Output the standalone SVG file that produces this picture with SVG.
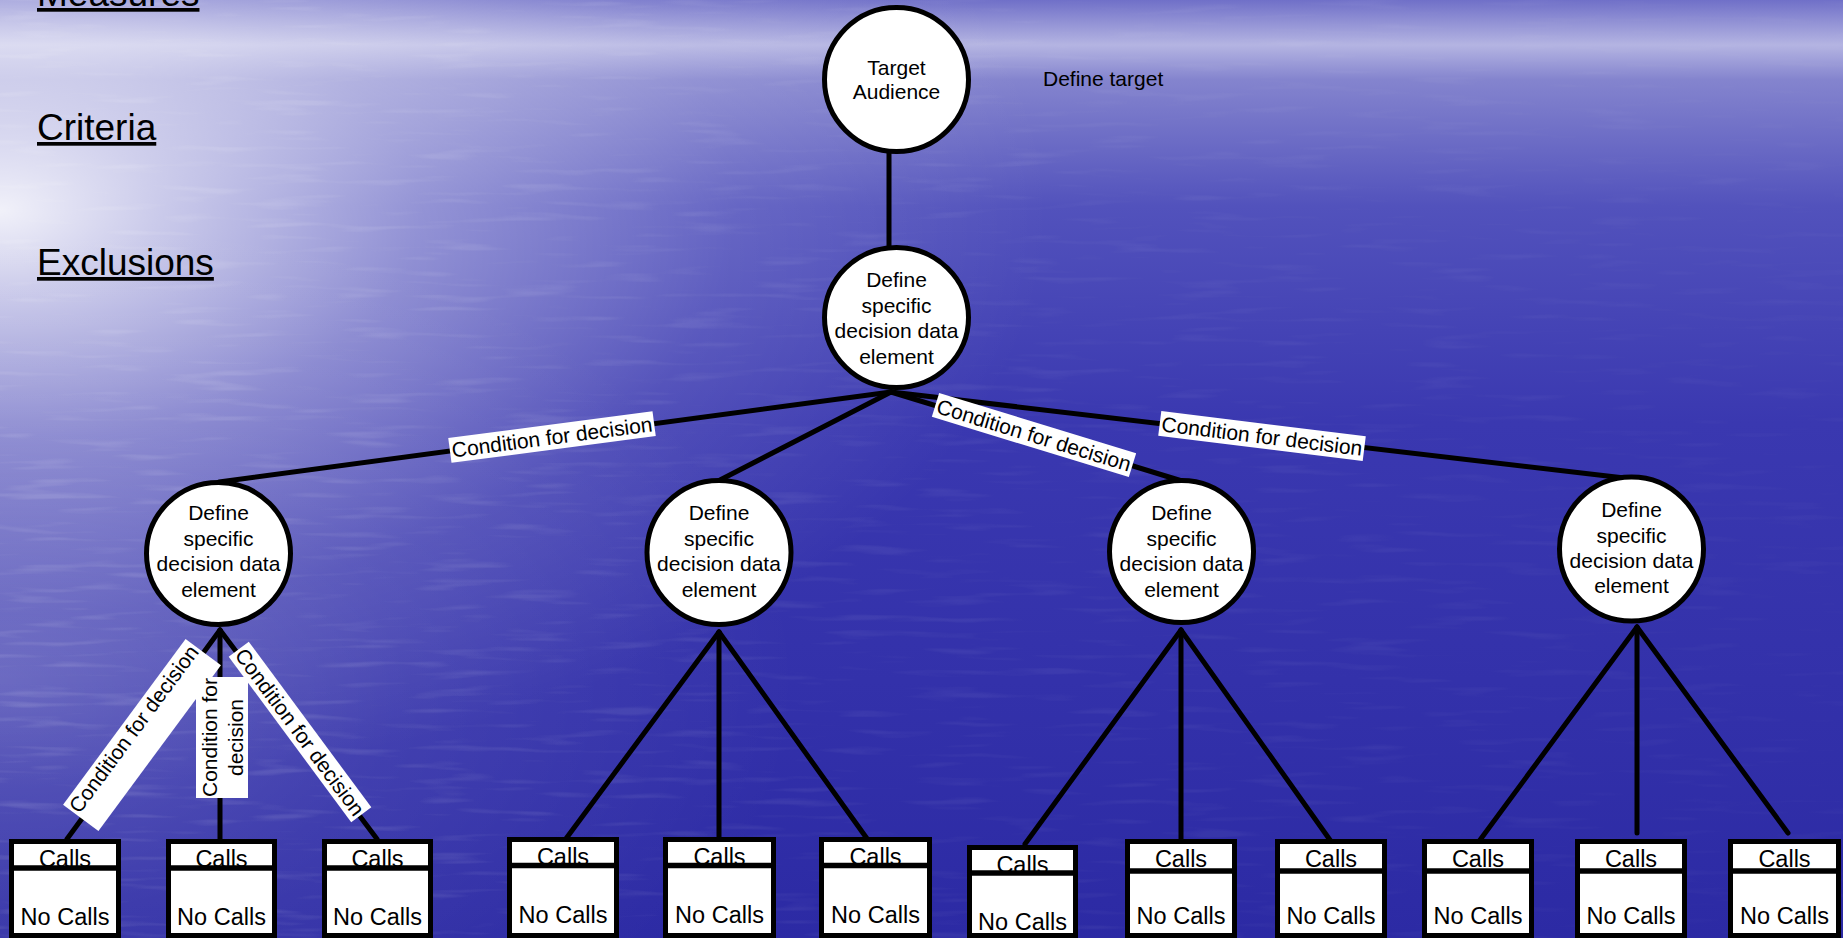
<svg xmlns="http://www.w3.org/2000/svg" width="1843" height="938" viewBox="0 0 1843 938">
<style>
.ln{stroke:#000;stroke-width:5;stroke-linecap:round;fill:none}
.node{fill:#fff;stroke:#000;stroke-width:5}
.box{fill:#fff;stroke:#000;stroke-width:5}
.div{stroke:#000;stroke-width:5.5}
.t{font-family:"Liberation Sans",Arial,sans-serif;font-size:21px;fill:#000;text-anchor:middle}
.bt{font-family:"Liberation Sans",Arial,sans-serif;font-size:23.5px;fill:#000;text-anchor:middle}
.side{font-family:"Liberation Sans",Arial,sans-serif;font-size:37px;fill:#000;text-decoration:underline}
.lbl{fill:#fff}
</style>
<defs>
<linearGradient id="bgv" x1="0" y1="0" x2="0" y2="938" gradientUnits="userSpaceOnUse">
<stop offset="0" stop-color="#7070c8"/>
<stop offset="0.048" stop-color="#b4b4e2"/>
<stop offset="0.085" stop-color="#8484ce"/>
<stop offset="0.22" stop-color="#5252bc"/>
<stop offset="0.45" stop-color="#3a38b0"/>
<stop offset="1" stop-color="#2c2aa4"/>
</linearGradient>
<radialGradient id="glow" cx="0" cy="210" r="1050" gradientUnits="userSpaceOnUse" gradientTransform="translate(0,210) scale(1,0.55) translate(0,-210)">
<stop offset="0" stop-color="#ffffff" stop-opacity="0.92"/>
<stop offset="0.15" stop-color="#ffffff" stop-opacity="0.7"/>
<stop offset="0.4" stop-color="#ffffff" stop-opacity="0.38"/>
<stop offset="0.7" stop-color="#ffffff" stop-opacity="0.12"/>
<stop offset="1" stop-color="#ffffff" stop-opacity="0"/>
</radialGradient>
<radialGradient id="lowglow" cx="0" cy="680" r="800" gradientUnits="userSpaceOnUse" gradientTransform="translate(0,680) scale(1,0.6) translate(0,-680)">
<stop offset="0" stop-color="#ffffff" stop-opacity="0.22"/>
<stop offset="0.5" stop-color="#ffffff" stop-opacity="0.08"/>
<stop offset="1" stop-color="#ffffff" stop-opacity="0"/>
</radialGradient>
<linearGradient id="fadeR" x1="0" y1="0" x2="1843" y2="0" gradientUnits="userSpaceOnUse">
<stop offset="0" stop-color="#fff" stop-opacity="1"/>
<stop offset="0.45" stop-color="#fff" stop-opacity="0.45"/>
<stop offset="1" stop-color="#fff" stop-opacity="0.2"/>
</linearGradient>
<mask id="streakMask" maskUnits="userSpaceOnUse" x="0" y="0" width="1843" height="938">
<rect x="0" y="0" width="1843" height="938" fill="url(#fadeR)"/>
</mask>
<filter id="streaks" x="0" y="0" width="1843" height="938" filterUnits="userSpaceOnUse">
<feTurbulence type="fractalNoise" baseFrequency="0.012 0.13" numOctaves="2" seed="7"/>
<feColorMatrix type="matrix" values="0 0 0 0 1  0 0 0 0 1  0 0 0 0 1  4 0 0 0 -2.2"/>
</filter>
</defs>
<g id="background">
<rect x="0" y="0" width="1843" height="938" fill="url(#bgv)"/>
<rect x="0" y="0" width="1843" height="938" fill="url(#glow)"/>
<rect x="0" y="0" width="1843" height="938" fill="url(#lowglow)"/>
<g mask="url(#streakMask)"><rect x="0" y="0" width="1843" height="938" filter="url(#streaks)" opacity="0.12"/></g>
</g>
<g id="side-labels">
<text class="side" x="37" y="6">Measures</text>
<text class="side" x="37" y="140">Criteria</text>
<text class="side" x="37" y="275">Exclusions</text>
<text class="t" x="1043" y="86" style="text-anchor:start">Define target</text>
</g>
<g id="connectors">
<line class="ln" x1="889" y1="150" x2="889" y2="250"/>
<line class="ln" x1="891" y1="392" x2="219" y2="482"/>
<line class="ln" x1="891" y1="392" x2="720" y2="480"/>
<line class="ln" x1="891" y1="392" x2="1182" y2="481"/>
<line class="ln" x1="891" y1="392" x2="1633" y2="479"/>
<line class="ln" x1="220" y1="630" x2="67" y2="839"/>
<line class="ln" x1="220" y1="630" x2="220" y2="839"/>
<line class="ln" x1="220" y1="630" x2="377" y2="839"/>
<line class="ln" x1="719" y1="632" x2="565" y2="840"/>
<line class="ln" x1="719" y1="632" x2="719" y2="840"/>
<line class="ln" x1="719" y1="632" x2="868" y2="840"/>
<line class="ln" x1="1181" y1="630" x2="1025" y2="844"/>
<line class="ln" x1="1181" y1="630" x2="1181" y2="840"/>
<line class="ln" x1="1181" y1="630" x2="1330" y2="840"/>
<line class="ln" x1="1637" y1="627" x2="1480" y2="840"/>
<line class="ln" x1="1637" y1="627" x2="1637" y2="833"/>
<line class="ln" x1="1637" y1="627" x2="1788" y2="833"/>
<g transform="translate(552,437) rotate(-7.5)">
<rect class="lbl" x="-103" y="-12.5" width="206" height="25"/>
<text class="t" x="0" y="7.5">Condition for decision</text>
</g>
<g transform="translate(1034,435) rotate(17)">
<rect class="lbl" x="-103" y="-12.5" width="206" height="25"/>
<text class="t" x="0" y="7.5">Condition for decision</text>
</g>
<g transform="translate(1262,436) rotate(7)">
<rect class="lbl" x="-103" y="-12.5" width="206" height="25"/>
<text class="t" x="0" y="7.5">Condition for decision</text>
</g>
<g transform="translate(142,735) rotate(-53.5)">
<rect class="lbl" x="-103" y="-22" width="206" height="44"/>
<text class="t" x="0" y="-3">Condition for decision</text>
</g>
<g transform="translate(222,737.5) rotate(-90)">
<rect class="lbl" x="-60.5" y="-26" width="121" height="52"/>
<text class="t" x="0" y="-5">Condition for</text>
<text class="t" x="0" y="20.5">decision</text>
</g>
<g transform="translate(300,732) rotate(53.5)">
<rect class="lbl" x="-103" y="-12.5" width="206" height="25"/>
<text class="t" x="0" y="7.5">Condition for decision</text>
</g>
</g>
<g id="node-target">
<ellipse class="node" cx="896.5" cy="79.5" rx="72" ry="72"/>
<text class="t" x="896.5" y="75">Target</text>
<text class="t" x="896.5" y="99">Audience</text>
</g>
<g id="node-decision-root">
<ellipse class="node" cx="896.5" cy="317.5" rx="72" ry="70"/>
<text class="t" x="896.5" y="287">Define</text>
<text class="t" x="896.5" y="312.5">specific</text>
<text class="t" x="896.5" y="338">decision data</text>
<text class="t" x="896.5" y="363.5">element</text>
</g>
<g id="node-decision-1">
<ellipse class="node" cx="218.5" cy="553.5" rx="72" ry="71"/>
<text class="t" x="218.5" y="520">Define</text>
<text class="t" x="218.5" y="546">specific</text>
<text class="t" x="218.5" y="571">decision data</text>
<text class="t" x="218.5" y="597">element</text>
</g>
<g id="node-decision-2">
<ellipse class="node" cx="719" cy="552.5" rx="72" ry="72"/>
<text class="t" x="719" y="520">Define</text>
<text class="t" x="719" y="546">specific</text>
<text class="t" x="719" y="571">decision data</text>
<text class="t" x="719" y="597">element</text>
</g>
<g id="node-decision-3">
<ellipse class="node" cx="1181.5" cy="551.5" rx="72" ry="71"/>
<text class="t" x="1181.5" y="520">Define</text>
<text class="t" x="1181.5" y="546">specific</text>
<text class="t" x="1181.5" y="571">decision data</text>
<text class="t" x="1181.5" y="597">element</text>
</g>
<g id="node-decision-4">
<ellipse class="node" cx="1631.5" cy="549" rx="72" ry="72"/>
<text class="t" x="1631.5" y="517">Define</text>
<text class="t" x="1631.5" y="543">specific</text>
<text class="t" x="1631.5" y="568">decision data</text>
<text class="t" x="1631.5" y="593">element</text>
</g>
<g id="box-1"><rect class="box" x="11.5" y="841.5" width="107" height="94"/><text class="bt" x="65" y="867">Calls</text><line class="div" x1="9" y1="868" x2="121" y2="868"/><text class="bt" x="65" y="925">No Calls</text></g>
<g id="box-2"><rect class="box" x="168.5" y="841.5" width="106" height="94"/><text class="bt" x="221.5" y="867">Calls</text><line class="div" x1="166" y1="868" x2="277" y2="868"/><text class="bt" x="221.5" y="925">No Calls</text></g>
<g id="box-3"><rect class="box" x="324.5" y="841.5" width="106" height="94"/><text class="bt" x="377.5" y="867">Calls</text><line class="div" x1="322" y1="868" x2="433" y2="868"/><text class="bt" x="377.5" y="925">No Calls</text></g>
<g id="box-4"><rect class="box" x="509.5" y="839.5" width="107" height="96"/><text class="bt" x="563" y="865">Calls</text><line class="div" x1="507" y1="865.5" x2="619" y2="865.5"/><text class="bt" x="563" y="923">No Calls</text></g>
<g id="box-5"><rect class="box" x="665.5" y="839.5" width="108" height="96"/><text class="bt" x="719.5" y="865">Calls</text><line class="div" x1="663" y1="865.5" x2="776" y2="865.5"/><text class="bt" x="719.5" y="923">No Calls</text></g>
<g id="box-6"><rect class="box" x="821.5" y="839.5" width="108" height="96"/><text class="bt" x="875.5" y="865">Calls</text><line class="div" x1="819" y1="865.5" x2="932" y2="865.5"/><text class="bt" x="875.5" y="923">No Calls</text></g>
<g id="box-7"><rect class="box" x="969.5" y="847.5" width="106" height="88"/><text class="bt" x="1022.5" y="873">Calls</text><line class="div" x1="967" y1="873" x2="1078" y2="873"/><text class="bt" x="1022.5" y="930">No Calls</text></g>
<g id="box-8"><rect class="box" x="1127.5" y="841.5" width="107" height="94"/><text class="bt" x="1181" y="866.5">Calls</text><line class="div" x1="1125" y1="871" x2="1237" y2="871"/><text class="bt" x="1181" y="924">No Calls</text></g>
<g id="box-9"><rect class="box" x="1277.5" y="841.5" width="107" height="94"/><text class="bt" x="1331" y="866.5">Calls</text><line class="div" x1="1275" y1="871" x2="1387" y2="871"/><text class="bt" x="1331" y="924">No Calls</text></g>
<g id="box-10"><rect class="box" x="1424.5" y="841.5" width="107" height="94"/><text class="bt" x="1478" y="866.5">Calls</text><line class="div" x1="1422" y1="871" x2="1534" y2="871"/><text class="bt" x="1478" y="924">No Calls</text></g>
<g id="box-11"><rect class="box" x="1577.5" y="841.5" width="107" height="94"/><text class="bt" x="1631" y="866.5">Calls</text><line class="div" x1="1575" y1="871" x2="1687" y2="871"/><text class="bt" x="1631" y="924">No Calls</text></g>
<g id="box-12"><rect class="box" x="1730.5" y="841.5" width="108" height="94"/><text class="bt" x="1784.5" y="866.5">Calls</text><line class="div" x1="1728" y1="871" x2="1841" y2="871"/><text class="bt" x="1784.5" y="924">No Calls</text></g>
</svg>
